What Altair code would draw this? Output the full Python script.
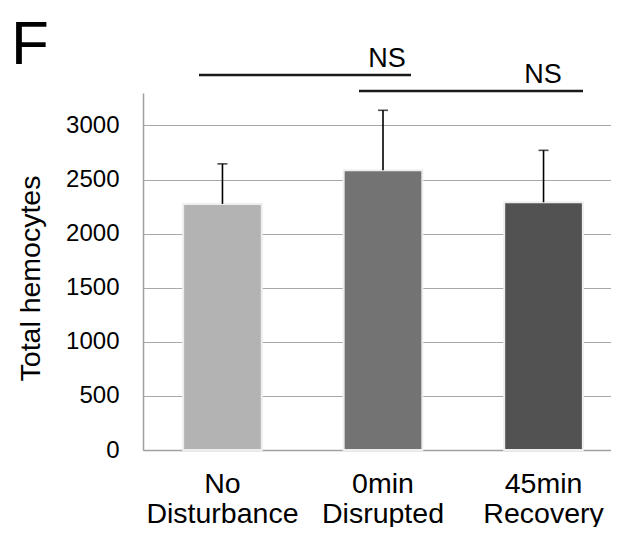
import altair as alt
import pandas as pd

categories = ["No\nDisturbance", "0min\nDisrupted", "45min\nRecovery"]
means = [2275, 2585, 2290]
errors = [370, 555, 480]
colors = ["#b3b3b3", "#737373", "#525252"]
sig_labels = ["NS", "NS"]
panel_label = "F"

df = pd.DataFrame({
    "cat": categories,
    "mean": means,
    "upper": [m + e for m, e in zip(means, errors)],
})

FONT = "Liberation Sans"
W, H = 468, 357

x_scale = alt.Scale(paddingInner=0.51, paddingOuter=0.25, range=[0, 480])
x = alt.X("cat:N", sort=categories, title=None, scale=x_scale,
          axis=alt.Axis(labelExpr="split(datum.label, '\\n')", labelAngle=0,
                        labelFontSize=28.5, labelLineHeight=30, labelColor="black",
                        labelFont=FONT, labelPadding=19, ticks=False, tickSize=0,
                        domainColor="#a0a0a0", domainWidth=1.5))
y_scale = alt.Scale(domain=[0, 3300], nice=False, zero=True)

bars = alt.Chart(df).mark_bar(stroke="#eeeeee", strokeWidth=2).encode(
    x=x,
    y=alt.Y("mean:Q", scale=y_scale, title="Total hemocytes",
            axis=alt.Axis(values=[0, 500, 1000, 1500, 2000, 2500, 3000], format="d",
                          grid=True, gridColor="#a8a8a8", gridWidth=1.2,
                          ticks=False, tickSize=0, labelPadding=24,
                          labelFontSize=24, labelFont=FONT, labelColor="black",
                          domainColor="#a0a0a0", domainWidth=1.5,
                          titleFont=FONT, titleFontSize=28.5, titleFontWeight="normal",
                          titleColor="black", titleX=-98, titleY=185,
                          titleAlign="center", titleAngle=-90)),
    color=alt.Color("cat:N", sort=categories, legend=None,
                    scale=alt.Scale(domain=categories, range=colors)),
)

err = alt.Chart(df).mark_rule(color="black", strokeWidth=1.6).encode(
    x=alt.X("cat:N", sort=categories, scale=x_scale),
    y=alt.Y("mean:Q", scale=y_scale),
    y2="upper:Q",
)
caps = alt.Chart(df).mark_tick(color="black", size=10, thickness=1.6).encode(
    x=alt.X("cat:N", sort=categories, scale=x_scale),
    y=alt.Y("upper:Q", scale=y_scale),
)

line1 = alt.Chart(pd.DataFrame({"k": [0]})).mark_rule(
    color="#1a1a1a", strokeWidth=2.6, clip=False).encode(
    x=alt.value(56), x2=alt.value(268), y=alt.value(-18))
line2 = alt.Chart(pd.DataFrame({"k": [0]})).mark_rule(
    color="#1a1a1a", strokeWidth=2.6, clip=False).encode(
    x=alt.value(216), x2=alt.value(440), y=alt.value(-2))
ns1 = alt.Chart(pd.DataFrame({"t": [sig_labels[0]]})).mark_text(
    font=FONT, fontSize=27, color="black", align="center", baseline="alphabetic").encode(
    text="t:N", x=alt.value(244), y=alt.value(-26))
ns2 = alt.Chart(pd.DataFrame({"t": [sig_labels[1]]})).mark_text(
    font=FONT, fontSize=27, color="black", align="center", baseline="alphabetic").encode(
    text="t:N", x=alt.value(400), y=alt.value(-10))
flabel = alt.Chart(pd.DataFrame({"t": [panel_label]})).mark_text(
    font=FONT, fontSize=62, color="black", align="left", baseline="alphabetic").encode(
    text="t:N", x=alt.value(-132), y=alt.value(-29))

chart = alt.layer(bars, err, caps, line1, line2, ns1, ns2, flabel).properties(
    width=W, height=H,
    background="white",
    autosize=alt.AutoSizeParams(type="none"),
    padding={"left": 135, "top": 85, "right": 0, "bottom": 77},
).configure_view(strokeWidth=0, stroke=None)

chart.save("out.html", embed_options={"renderer": "svg", "actions": False})
